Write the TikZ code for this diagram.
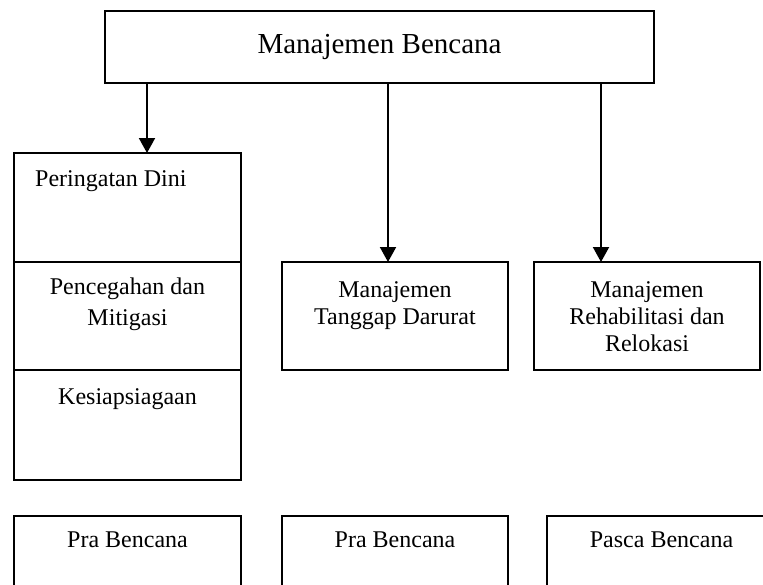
\documentclass[tikz,border=0pt]{standalone}
\usepackage{fontspec}
\setmainfont{Liberation Serif}
\usetikzlibrary{arrows.meta,positioning}

\begin{document}
\begin{tikzpicture}[
  x=1pt, y=-1pt,
  box/.style={draw, line width=2pt, inner sep=0pt, outer sep=0pt, anchor=north west},
  txt/.style={inner sep=0pt, align=center, font=\fontsize{24}{27}\selectfont},
  arr/.style={-{Triangle[length=15pt,width=16pt]}, line width=2pt}
]
\clip (0,0) rectangle (763,584);

% top box
\node[box, minimum width=549pt, minimum height=72pt] (mb) at (105,11) {};
\node[txt, font=\fontsize{29}{33}\selectfont, below=23pt of mb.north] (mbt) {Manajemen Bencana};

% left column
\node[box, minimum width=227pt, minimum height=109pt] (dini) at (14,153) {};
\node[box, minimum width=227pt, minimum height=108pt, below=0pt of dini] (cegah) {};
\node[box, minimum width=227pt, minimum height=110pt, below=0pt of cegah] (siaga) {};
\node[txt, anchor=north west] (dinit) at ([xshift=21pt,yshift=-17.6pt]dini.north west) {Peringatan Dini};
\node[txt, font=\fontsize{24}{31}\selectfont, below=15.6pt of cegah.north] (cegaht) {Pencegahan dan\\Mitigasi};
\node[txt, below=18.6pt of siaga.north] (siagat) {Kesiapsiagaan};

% middle and right
\node[box, minimum width=226pt, minimum height=108pt] (tdar) at (282,262) {};
\node[txt, below=19.6pt of tdar.north] (tdart) {Manajemen\\Tanggap Darurat};
\node[box, minimum width=226pt, minimum height=108pt] (rehab) at (534,262) {};
\node[txt, below=19.6pt of rehab.north] (rehabt) {Manajemen\\Rehabilitasi dan\\Relokasi};

% bottom row
\node[box, minimum width=227pt, minimum height=90pt] (pra1) at (14,516) {};
\node[box, minimum width=226pt, minimum height=90pt] (pra2) at (282,516) {};
\node[box, minimum width=229pt, minimum height=90pt] (pasca) at (547,516) {};
\node[txt, below=15.6pt of pra1.north] (pra1t) {Pra Bencana};
\node[txt, below=15.6pt of pra2.north] (pra2t) {Pra Bencana};
\node[txt, below=15.6pt of pasca.north] (pascat) {Pasca Bencana};

% arrows
\coordinate (a1) at ([xshift=42pt]mb.south west);
\coordinate (a2) at ([xshift=283pt]mb.south west);
\coordinate (a3) at ([xshift=496pt]mb.south west);
\draw[arr] (a1) -- (a1 |- dini.north);
\draw[arr] (a2) -- (a2 |- tdar.north);
\draw[arr] (a3) -- (a3 |- rehab.north);

\end{tikzpicture}
\end{document}
